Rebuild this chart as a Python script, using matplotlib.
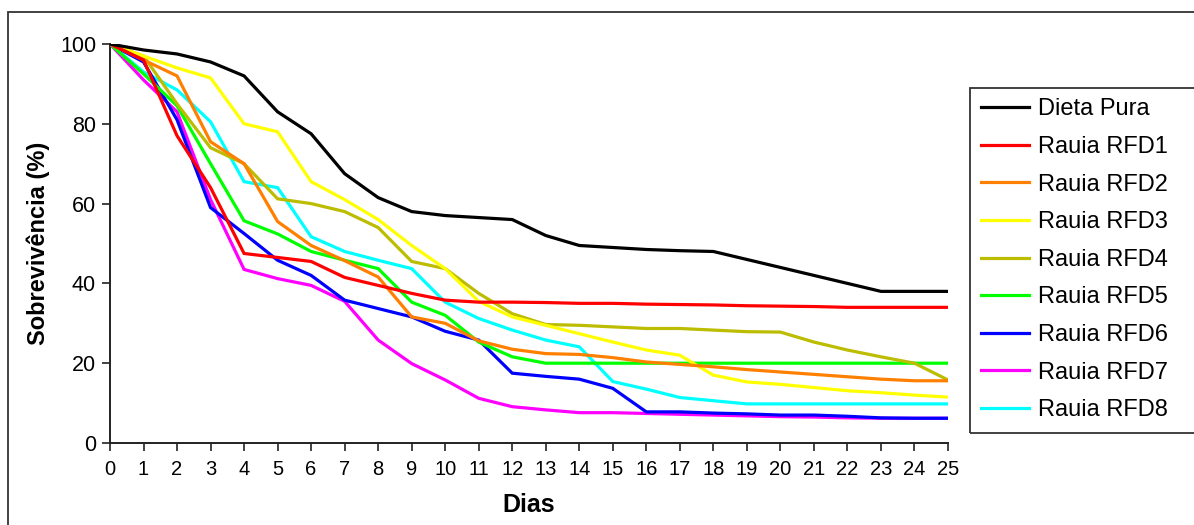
"""Curvas de sobrevivência por dieta (Dieta Pura vs. Rauia RFD1–RFD8)."""

import matplotlib.pyplot as plt
from matplotlib.patches import Rectangle

dias = list(range(26))

dieta_pura = [100, 98.5, 97.5, 95.5, 92, 83, 77.5, 67.5, 61.5, 58, 57, 56.5, 56,
              52, 49.5, 49, 48.5, 48.2, 48, 46, 44, 42, 40, 38, 38, 38]
rfd1 = [100, 96, 77, 64, 47.5, 46.5, 45.5, 41.5, 39.5, 37.5, 35.8, 35.3, 35.3,
        35.2, 35, 35, 34.8, 34.7, 34.6, 34.4, 34.3, 34.2, 34, 34, 34, 34]
rfd2 = [100, 96, 92, 75.5, 70, 55.5, 49.5, 45.7, 41.6, 31.6, 30, 25.6, 23.5,
        22.4, 22.2, 21.4, 20.3, 19.7, 19.1, 18.4, 17.8, 17.2, 16.6, 16, 15.6, 15.6]
rfd3 = [100, 97, 94, 91.5, 80, 78, 65.5, 61, 56, 49.5, 43.7, 35.5, 31.6,
        29.5, 27.4, 25.3, 23.3, 22, 17, 15.3, 14.7, 13.9, 13.1, 12.6, 12, 11.5]
rfd4 = [100, 97, 85, 74, 70, 61.2, 60, 58, 54, 45.5, 43.7, 37.5, 32.4,
        29.7, 29.5, 29.1, 28.7, 28.7, 28.3, 27.9, 27.8, 25.3, 23.3, 21.6, 20, 15.8]
rfd5 = [100, 92.5, 84.5, 70, 55.7, 52.4, 48, 45.8, 43.7, 35.3, 32, 25.3, 21.6,
        20, 20, 20, 20, 20, 20, 20, 20, 20, 20, 20, 20, 20]
rfd6 = [100, 95.5, 81, 59, 52.5, 45.8, 42, 35.8, 33.7, 31.6, 28, 25.8, 17.5,
        16.7, 16, 13.7, 7.8, 7.8, 7.5, 7.3, 7, 7, 6.7, 6.3, 6.2, 6.2]
rfd7 = [100, 91, 83, 61, 43.5, 41.2, 39.5, 35.5, 25.8, 19.9, 15.8, 11.2, 9.1,
        8.3, 7.6, 7.6, 7.4, 7.2, 7, 6.8, 6.6, 6.5, 6.3, 6.2, 6.2, 6.2]
rfd8 = [100, 93, 88.5, 80.5, 65.5, 64, 51.7, 48, 45.8, 43.7, 35.3, 31.2, 28.3,
        25.8, 24.1, 15.4, 13.5, 11.4, 10.6, 9.8, 9.8, 9.8, 9.8, 9.8, 9.8, 9.8]

series = [dieta_pura, rfd1, rfd2, rfd3, rfd4, rfd5, rfd6, rfd7, rfd8]
labels = ["Dieta Pura", "Rauia RFD1", "Rauia RFD2", "Rauia RFD3", "Rauia RFD4",
          "Rauia RFD5", "Rauia RFD6", "Rauia RFD7", "Rauia RFD8"]
colors = ["#000000", "#ff0000", "#ff8000", "#ffff00", "#bcbc00",
          "#00ff00", "#0000ff", "#ff00ff", "#00ffff"]

plt.rcParams["font.family"] = ["Liberation Sans", "DejaVu Sans"]

fig = plt.figure(figsize=(11.94, 5.25), dpi=100)
ax = fig.add_axes([110 / 1194, 1 - 443 / 525, 838 / 1194, 399 / 525])

# later series drawn first so the earlier ones sit on top
lines = []
n = len(series)
for i, (vals, lab, col) in enumerate(zip(series, labels, colors)):
    ln, = ax.plot(dias, vals, color=col, lw=2.3, label=lab, zorder=3 + n - i,
                  solid_joinstyle="miter")
    lines.append(ln)

ax.set_xlim(0, 25)
ax.set_ylim(0, 100)
ax.set_xticks(dias)
ax.set_yticks(range(0, 101, 20))
for s in ["top", "right"]:
    ax.spines[s].set_visible(False)
for s in ["left", "bottom"]:
    ax.spines[s].set_linewidth(1.4)
    ax.spines[s].set_color("#222222")
ax.tick_params(axis="both", direction="out", length=6, width=1.2, color="#222222")
ax.tick_params(axis="y", labelsize=15.5, pad=4)
ax.tick_params(axis="x", labelsize=14.5, pad=6)

ax.set_ylabel("Sobrevivência (%)", fontsize=17, fontweight="bold", labelpad=7)
ax.set_xlabel("Dias", fontsize=18, fontweight="bold", labelpad=10)

# legend with its own frame box
leg = fig.legend(lines, labels, loc="upper left",
                 bbox_to_anchor=(972 / 1194, 1 - 89 / 525),
                 frameon=False, fontsize=17, handlelength=2.0,
                 handletextpad=0.4, labelspacing=0.66, borderaxespad=0)
for h in leg.get_lines():
    h.set_linewidth(2.3)
fig.patches.append(Rectangle((970 / 1194, 1 - 433 / 525), 240 / 1194, 345 / 525,
                             transform=fig.transFigure, fill=False,
                             edgecolor="#333333", lw=1.3))

# outer chart border
fig.patches.append(Rectangle((8 / 1194, -0.05), 1.1, 1 - 12 / 525 + 0.05,
                             transform=fig.transFigure, fill=False,
                             edgecolor="#333333", lw=1.3))

fig.savefig("out.png", dpi=100)
